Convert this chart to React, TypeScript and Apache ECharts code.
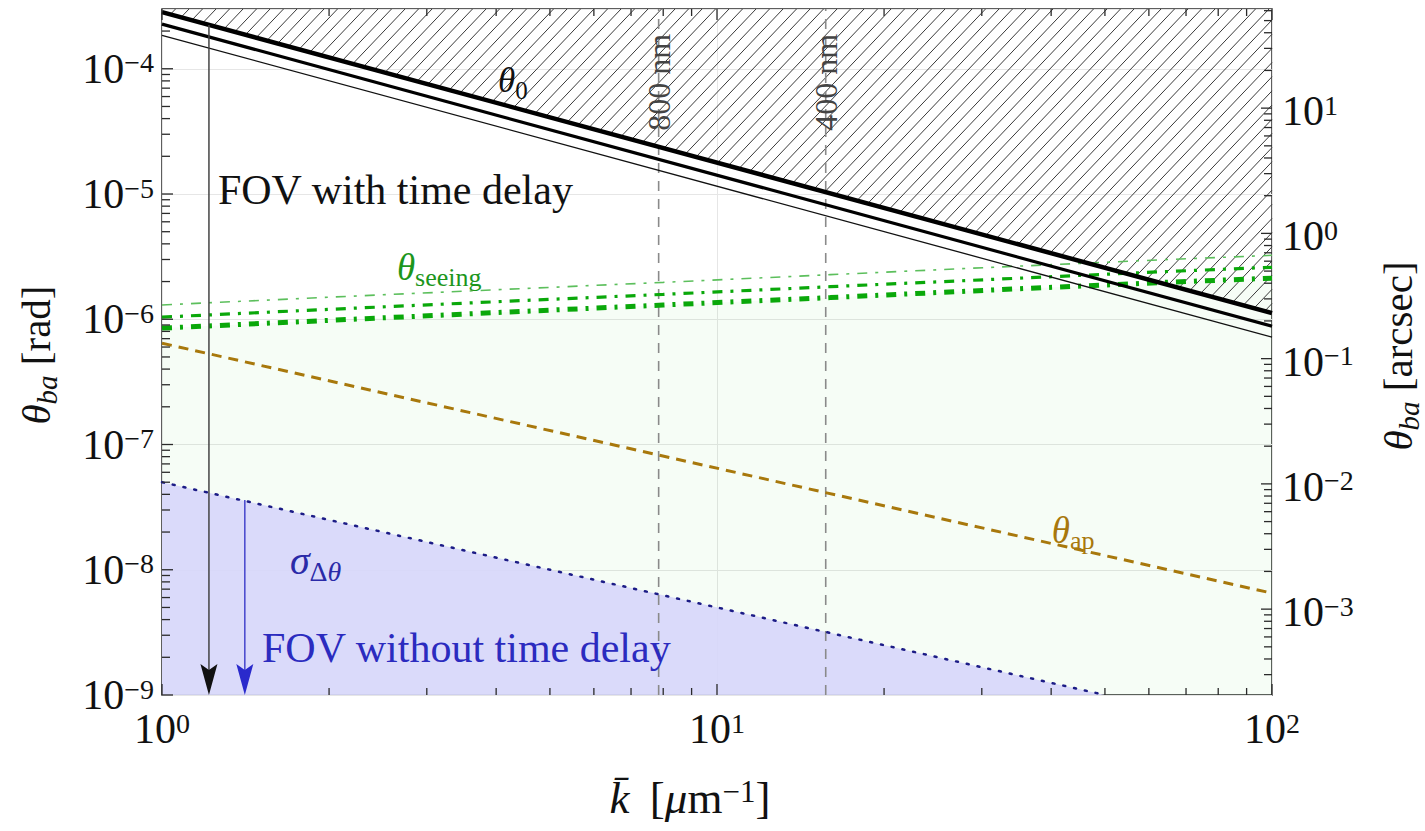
import React, { useEffect, useRef } from 'react';
import * as echarts from 'echarts';

// ---------- data ----------
const K_RANGE = [1, 100];
const THETA_RANGE = [1e-9, 3e-4];
const RAD_TO_ARCSEC = 206265;

const K_LINE = [1, 100];
const THETA0_THICK = [2.83e-4, 1.12e-6];
const THETA0_MID = [2.27e-4, 8.8e-7];
const THETA0_THIN = [1.85e-4, 7.2e-7];

const K_SEEING = [1, 2, 4, 8, 16, 32, 64, 100];
const SEEING_THICK = [0.85e-6, 0.98e-6, 1.13e-6, 1.30e-6, 1.49e-6, 1.72e-6, 1.97e-6, 2.13e-6];
const SEEING_MID = [1.04e-6, 1.20e-6, 1.38e-6, 1.58e-6, 1.82e-6, 2.09e-6, 2.40e-6, 2.60e-6];
const SEEING_THIN = [1.30e-6, 1.50e-6, 1.72e-6, 1.97e-6, 2.27e-6, 2.61e-6, 2.99e-6, 3.24e-6];

const THETA_AP = [6.44e-7, 6.5e-9];

const K_SIGMA = [1, 50];
const SIGMA = [5.0e-8, 1.0e-9];

const WAVE_K = [7.85, 15.7];
const WAVE_LABELS = ['800 nm', '400 nm'];
const WAVE_LABEL_THETA = 7.8e-5;

const ARROW_K = [1.215, 1.41];
const ARROW_FROM = [2.24e-4, 3.6e-8];
const ARROW_TO = [1e-9, 1e-9];

const X_MAJOR = [1, 10, 100];
const Y_MAJOR = [1e-9, 1e-8, 1e-7, 1e-6, 1e-5, 1e-4];
const ARC_MAJOR = [1e-3, 1e-2, 1e-1, 1, 10];

// ---------- helpers ----------
const FONT = "'Liberation Serif', 'Times New Roman', serif";

const minorTicks = (majors: number[], lo: number, hi: number) => {
  const out: number[] = [];
  const all = [majors[0] / 10, ...majors];
  all.forEach((m) => {
    for (let j = 2; j <= 9; j++) {
      const v = m * j;
      if (v > lo * 1.0001 && v < hi * 0.9999) out.push(v);
    }
  });
  return out;
};

const isDecade = (v: number) => {
  const l = Math.log10(v);
  return Math.abs(l - Math.round(l)) < 1e-6;
};

const powLabel = (v: number) => {
  if (!isDecade(v)) return '';
  const e = Math.round(Math.log10(v));
  return `{b|10}{s|${e < 0 ? '\u2212' + -e : e}}`;
};

const tickRich = (color: string) => ({
  b: { fontFamily: FONT, fontSize: 42, lineHeight: 42, verticalAlign: 'bottom', color, fill: color },
  s: { fontFamily: FONT, fontSize: 28, lineHeight: 28, padding: [0, 0, 13, 0], verticalAlign: 'bottom', color, fill: color },
});

const annRich = (color: string, size: number) => {
  const ss = Math.round(size * 0.7);
  return {
    i: { fontFamily: FONT, fontStyle: 'italic', fontSize: size, lineHeight: size, verticalAlign: 'top', color, fill: color },
    r: { fontFamily: FONT, fontSize: size, lineHeight: size, verticalAlign: 'top', color, fill: color },
    sub: { fontFamily: FONT, fontSize: ss, lineHeight: ss, padding: [Math.round(size * 0.42), 0, 0, 0], verticalAlign: 'top', color, fill: color },
    subi: { fontFamily: FONT, fontStyle: 'italic', fontSize: ss, lineHeight: ss, padding: [Math.round(size * 0.42), 0, 0, 0], verticalAlign: 'top', color, fill: color },
    sup: { fontFamily: FONT, fontSize: ss, lineHeight: ss, padding: [0, 0, 0, 0], verticalAlign: 'top', color, fill: color },
  };
};

const LABELS = [
  { k: 1.261, v: 1.07e-5, text: '{r|FOV with time delay}', color: '#111111', size: 42, align: 'left', rot: 0 },
  { k: 4.03, v: 8.1e-5, text: '{i|θ}{sub|0}', color: '#111111', size: 35, align: 'left', rot: 0 },
  { k: 2.65, v: 2.61e-6, text: '{i|θ}{sub|seeing}', color: '#1c961c', size: 37, align: 'left', rot: 0 },
  { k: 40.1, v: 2.07e-8, text: '{i|θ}{sub|ap}', color: '#a8780c', size: 37, align: 'left', rot: 0 },
  { k: 1.70, v: 1.19e-8, text: '{i|σ}{sub|Δ}{subi|θ}', color: '#2a2aa8', size: 40, align: 'left', rot: 0 },
  { k: 1.514, v: 2.37e-9, text: '{r|FOV without time delay}', color: '#2b2bbf', size: 42, align: 'left', rot: 0 },
  { k: WAVE_K[0], v: WAVE_LABEL_THETA, text: `{r|${WAVE_LABELS[0]}}`, color: '#444444', size: 32, align: 'center', rot: Math.PI / 2 },
  { k: WAVE_K[1], v: WAVE_LABEL_THETA, text: `{r|${WAVE_LABELS[1]}}`, color: '#444444', size: 32, align: 'center', rot: Math.PI / 2 },
];

const pts = (xs: number[], ys: number[]) => xs.map((x, i) => [x, ys[i]]);

export default function App() {
  const ref = useRef<HTMLDivElement>(null);

  useEffect(() => {
    document.body.style.margin = '0';
    if (!ref.current) return;
    const chart = echarts.init(ref.current, undefined, { renderer: 'svg' });

    const xMinor = minorTicks(X_MAJOR, K_RANGE[0], K_RANGE[1]);
    const yMinor = minorTicks(Y_MAJOR, THETA_RANGE[0], THETA_RANGE[1]);
    const arcLo = THETA_RANGE[0] * RAD_TO_ARCSEC;
    const arcHi = THETA_RANGE[1] * RAD_TO_ARCSEC;
    const arcMinor = minorTicks(ARC_MAJOR, arcLo, arcHi);

    const option: any = {
      animation: false,
      backgroundColor: '#ffffff',
      grid: {
        left: 162, right: 153, top: 9, bottom: 136,
        show: true, borderColor: '#2a2a2a', borderWidth: 1.5, backgroundColor: 'transparent',
        containLabel: false,
      },
      xAxis: {
        type: 'log', logBase: 10, min: K_RANGE[0], max: K_RANGE[1],
        axisLine: { show: false }, axisTick: { show: false },
        splitLine: { show: true, lineStyle: { color: '#e6e6e6', width: 1 } },
        axisLabel: { margin: 13, formatter: powLabel, rich: tickRich('#111'), showMinLabel: true, showMaxLabel: true, hideOverlap: false },
      },
      yAxis: [
        {
          type: 'log', logBase: 10, min: THETA_RANGE[0], max: THETA_RANGE[1],
          axisLine: { show: false }, axisTick: { show: false },
          splitLine: { show: true, lineStyle: { color: '#e6e6e6', width: 1 } },
          axisLabel: { margin: 8, formatter: powLabel, rich: tickRich('#111'), showMinLabel: true, showMaxLabel: true, hideOverlap: false },
        },
        {
          type: 'log', logBase: 10, min: arcLo, max: arcHi, position: 'right',
          axisLine: { show: false }, axisTick: { show: false }, splitLine: { show: false },
          axisLabel: { show: false },
        },
      ],
      series: [
        // green fill
        {
          type: 'line', data: pts(K_SEEING, SEEING_THICK), symbol: 'none', silent: true, z: 1,
          lineStyle: { width: 0 }, areaStyle: { color: 'rgba(0,190,0,0.05)', origin: 'start' },
        },
        // blue fill
        {
          type: 'line', data: pts(K_SIGMA, SIGMA), symbol: 'none', silent: true, z: 2,
          lineStyle: { width: 0 }, areaStyle: { color: 'rgb(215,215,250)', opacity: 0.93, origin: 'start' },
        },
        // hatch above theta0
        {
          type: 'custom', z: 3, silent: true, clip: false,
          data: [[K_LINE[0], THETA0_THICK[0]]],
          renderItem: (params: any, api: any) => {
            const cs = params.coordSys;
            const left = cs.x, top = cs.y, right = cs.x + cs.width;
            const p0 = api.coord([K_LINE[0], THETA0_THICK[0]]);
            const p1 = api.coord([K_LINE[1], THETA0_THICK[1]]);
            const m = (p1[1] - p0[1]) / (p1[0] - p0[0]);
            const t = 1.05;
            const step = 13.5;
            const children: any[] = [];
            const cMin = top + t * left;
            const cMax = p0[1] + m * (right - p0[0]) + t * right;
            for (let c = cMin; c <= cMax; c += t * step) {
              const xa = Math.max(left, (c - p0[1] + m * p0[0]) / (t + m));
              const xb = Math.min(right, (c - top) / t);
              if (xb > xa) {
                children.push({
                  type: 'line',
                  shape: { x1: xa, y1: c - t * xa, x2: xb, y2: c - t * xb },
                  style: { stroke: '#3a3a3a', lineWidth: 1 },
                });
              }
            }
            return { type: 'group', children };
          },
        },
        // wavelength dashed lines
        ...WAVE_K.map((k) => ({
          type: 'line', data: [[k, THETA_RANGE[0]], [k, THETA_RANGE[1]]], symbol: 'none', silent: true, z: 3,
          lineStyle: { color: '#8a8a8a', width: 1.6, type: [10, 8] },
        })),
        // seeing lines
        {
          type: 'line', data: pts(K_SEEING, SEEING_THIN), symbol: 'none', silent: true, z: 4,
          lineStyle: { color: '#5cbf5c', width: 1.6, type: [10, 8, 3, 8] },
        },
        {
          type: 'line', data: pts(K_SEEING, SEEING_MID), symbol: 'none', silent: true, z: 4,
          lineStyle: { color: '#0aa80a', width: 3.2, type: [10, 8, 3, 8] },
        },
        {
          type: 'line', data: pts(K_SEEING, SEEING_THICK), symbol: 'none', silent: true, z: 4,
          lineStyle: { color: '#0aa80a', width: 5, type: [10, 8, 3, 8] },
        },
        // theta_ap
        {
          type: 'line', data: pts(K_LINE, THETA_AP), symbol: 'none', silent: true, z: 4,
          lineStyle: { color: '#a8780c', width: 3, type: [10, 7] },
        },
        // sigma
        {
          type: 'line', data: pts(K_SIGMA, SIGMA), symbol: 'none', silent: true, z: 4,
          lineStyle: { color: '#1c1c86', width: 2.5, type: [2, 9], cap: 'round' },
        },
        // theta0 lines
        {
          type: 'line', data: pts(K_LINE, THETA0_THIN), symbol: 'none', silent: true, z: 5,
          lineStyle: { color: '#111', width: 1.3 },
        },
        {
          type: 'line', data: pts(K_LINE, THETA0_MID), symbol: 'none', silent: true, z: 5,
          lineStyle: { color: '#000', width: 3.2 },
        },
        {
          type: 'line', data: pts(K_LINE, THETA0_THICK), symbol: 'none', silent: true, z: 5,
          lineStyle: { color: '#000', width: 4.5 },
        },
        // arrows
        {
          type: 'custom', z: 6, silent: true, clip: false,
          data: ARROW_K.map((k, i) => [k, ARROW_FROM[i], ARROW_TO[i]]),
          renderItem: (params: any, api: any) => {
            const i = params.dataIndex;
            const color = i === 0 ? '#111111' : '#2a2acc';
            const lineColor = i === 0 ? '#444444' : '#4444cc';
            const k = api.value(0);
            const a = api.coord([k, api.value(1)]);
            const b = api.coord([k, api.value(2)]);
            const x = a[0];
            return {
              type: 'group',
              children: [
                { type: 'line', shape: { x1: x, y1: a[1], x2: x, y2: b[1] - 20 }, style: { stroke: lineColor, lineWidth: 1.5 } },
                {
                  type: 'polygon',
                  shape: { points: [[x, b[1]], [x - 8.5, b[1] - 31], [x, b[1] - 25], [x + 8.5, b[1] - 31]] },
                  style: { fill: color },
                },
              ],
            };
          },
        },
        // annotations
        {
          type: 'custom', z: 7, silent: true, clip: false,
          data: LABELS.map((l) => [l.k, l.v]),
          renderItem: (params: any, api: any) => {
            const L = LABELS[params.dataIndex];
            const p = api.coord([api.value(0), api.value(1)]);
            return {
              type: 'text', x: p[0], y: p[1], rotation: L.rot,
              style: {
                text: L.text, rich: annRich(L.color, L.size), fill: L.color,
                fontFamily: FONT, fontSize: L.size, align: L.align, verticalAlign: 'middle',
              },
            };
          },
        },
        // x ticks (bottom + top)
        {
          type: 'custom', z: 8, silent: true, clip: false,
          data: [...X_MAJOR, ...xMinor].map((v) => [v, THETA_RANGE[0]]),
          renderItem: (params: any, api: any) => {
            const v = api.value(0);
            const p = api.coord([v, THETA_RANGE[0]]);
            const cs = params.coordSys;
            const len = isDecade(v) ? 11 : 7;
            const bot = cs.y + cs.height, top = cs.y;
            const st = { stroke: '#2a2a2a', lineWidth: 1.3 };
            return {
              type: 'group',
              children: [
                { type: 'line', shape: { x1: p[0], y1: bot, x2: p[0], y2: bot - len }, style: st },
                { type: 'line', shape: { x1: p[0], y1: top, x2: p[0], y2: top + len }, style: st },
              ],
            };
          },
        },
        // left y ticks
        {
          type: 'custom', z: 8, silent: true, clip: false,
          data: [...Y_MAJOR, ...yMinor].map((v) => [K_RANGE[0], v]),
          renderItem: (params: any, api: any) => {
            const v = api.value(1);
            const p = api.coord([K_RANGE[0], v]);
            const cs = params.coordSys;
            const len = isDecade(v) ? 11 : 8;
            return {
              type: 'line', shape: { x1: cs.x, y1: p[1], x2: cs.x + len, y2: p[1] },
              style: { stroke: '#2a2a2a', lineWidth: 1.3 },
            };
          },
        },
        // right (arcsec) ticks and labels
        {
          type: 'custom', z: 8, silent: true, clip: false, yAxisIndex: 1,
          data: [...ARC_MAJOR, ...arcMinor].map((v) => [K_RANGE[1], v]),
          renderItem: (params: any, api: any) => {
            const v = api.value(1);
            const p = api.coord([K_RANGE[1], v]);
            const cs = params.coordSys;
            const right = cs.x + cs.width;
            const major = isDecade(v);
            const len = major ? 11 : 8;
            const children: any[] = [
              { type: 'line', shape: { x1: right, y1: p[1], x2: right - len, y2: p[1] }, style: { stroke: '#2a2a2a', lineWidth: 1.3 } },
            ];
            if (major) {
              children.push({
                type: 'text', x: right + 10, y: p[1] + 3,
                style: { text: powLabel(v), rich: tickRich('#111'), fill: '#111', fontFamily: FONT, fontSize: 42, align: 'left', verticalAlign: 'middle' },
              });
            }
            return { type: 'group', children };
          },
        },
      ],
      graphic: [
        {
          type: 'text', x: 36, y: 355, rotation: Math.PI / 2,
          style: {
            text: '{i|θ}{subi|ba}{r| [rad]}', rich: annRich('#111', 41), fill: '#111',
            fontFamily: FONT, fontSize: 41, align: 'center', verticalAlign: 'middle',
          },
        },
        {
          type: 'text', x: 1398, y: 356, rotation: Math.PI / 2,
          style: {
            text: '{i|θ}{subi|ba}{r| [arcsec]}', rich: annRich('#111', 41), fill: '#111',
            fontFamily: FONT, fontSize: 41, align: 'center', verticalAlign: 'middle',
          },
        },
        {
          type: 'text', x: 690, y: 798,
          style: {
            text: '{i|k\u0304}{r|\u2009 [}{i|μ}{r|m}{sup|\u22121}{r|]}', rich: annRich('#111', 45), fill: '#111',
            fontFamily: FONT, fontSize: 45, align: 'center', verticalAlign: 'middle',
          },
        },
      ],
    };

    chart.setOption(option);
    return () => chart.dispose();
  }, []);

  return <div ref={ref} style={{ width: 1425, height: 831 }} />;
}
